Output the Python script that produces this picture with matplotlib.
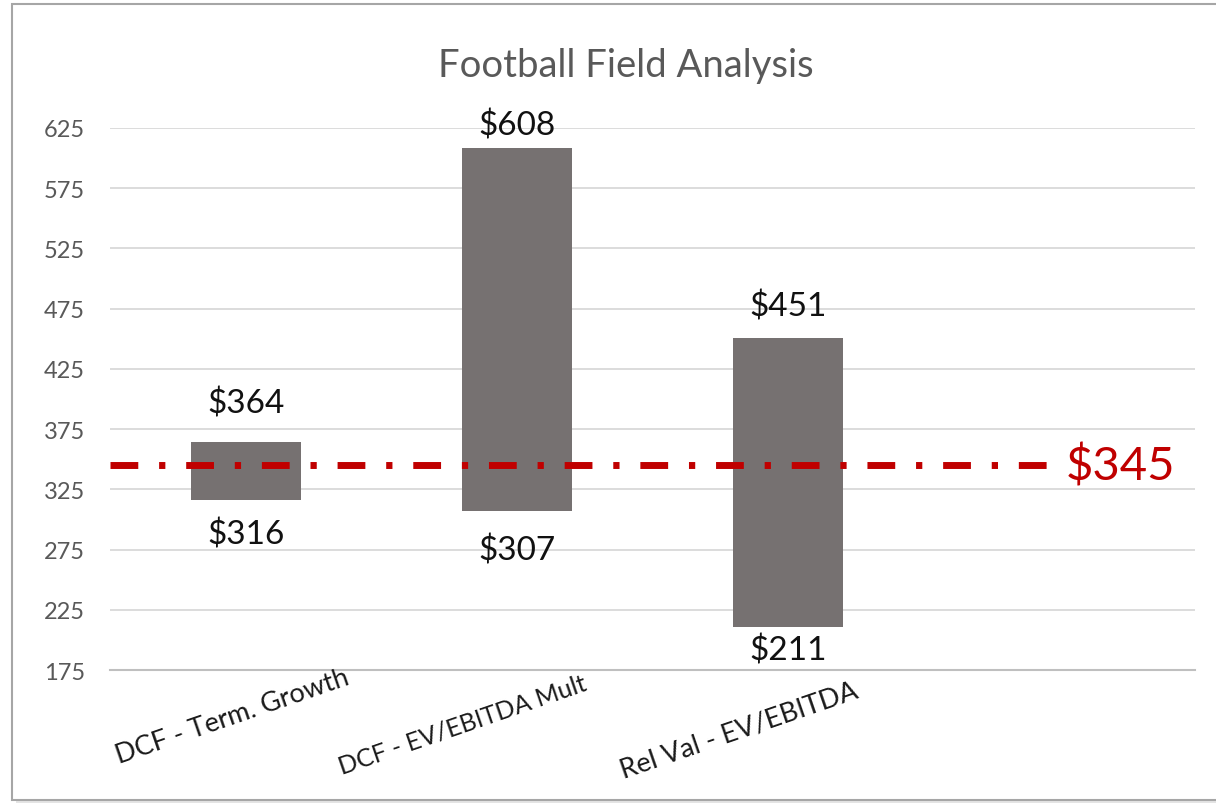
import matplotlib.pyplot as plt
from matplotlib.patches import Rectangle
from matplotlib.transforms import blended_transform_factory

plt.rcParams['font.family'] = ['Lato', 'DejaVu Sans']

# valuation ranges per method
methods = ["DCF - Term. Growth", "DCF - EV/EBITDA Mult", "Rel Val - EV/EBITDA", ""]
low_vals = [316, 307, 211]
high_vals = [364, 608, 451]
share_price = 345
y_ticks = [175, 225, 275, 325, 375, 425, 475, 525, 575, 625]

bar_color = "#767171"
red = "#C00000"

fig = plt.figure(figsize=(12.16, 8.04), dpi=100)

# chart frame with a soft shadow
fig.patches.append(Rectangle((0.013, 0.0), 1.0, 0.992, transform=fig.transFigure,
                             facecolor="#E4E4E4", edgecolor="none", zorder=-3))
fig.patches.append(Rectangle((0.0099, 0.004), 1.0, 0.990, transform=fig.transFigure,
                             facecolor="white", edgecolor="#A6A6A6", lw=1.5, zorder=-2))

ax = fig.add_axes([0.0905, 0.1654, 0.892, 0.6742])
ax.set_facecolor("none")

x = list(range(len(low_vals)))
heights = [h - l for h, l in zip(high_vals, low_vals)]
ax.bar(x, heights, bottom=low_vals, width=0.405, color=bar_color, zorder=3)

# label offsets (points) above / below each bar
top_pad = [28, 17, 23]
bot_pad = [24, 28, 17]
for i, (lo, hi) in enumerate(zip(low_vals, high_vals)):
    ax.annotate(f"${hi}", (i, hi), xytext=(0, top_pad[i]), textcoords="offset points",
                ha="center", va="center", fontsize=24, color="#111111",
                annotation_clip=False)
    ax.annotate(f"${lo}", (i, lo), xytext=(0, -bot_pad[i]), textcoords="offset points",
                ha="center", va="center", fontsize=24, color="#111111",
                annotation_clip=False)

# current share price line
ax.plot([-0.5, 3], [share_price, share_price], color=red, lw=5,
        dashes=(4.0, 3.0, 0.9, 3.0), zorder=4, clip_on=False)
ax.annotate(f"${share_price}", (3, share_price), xytext=(5, 0),
            textcoords="offset points", ha="left", va="center",
            fontsize=34, color=red, annotation_clip=False)

ax.set_xlim(-0.5, 3.5)
ax.set_ylim(175, 625)
ax.set_yticks(y_ticks)
ax.grid(axis="y", color="#D9D9D9", lw=1.3, zorder=0)
ax.set_axisbelow(True)
for side in ["top", "right", "left"]:
    ax.spines[side].set_visible(False)
ax.spines["bottom"].set_color("#BFBFBF")
ax.spines["bottom"].set_linewidth(1.5)
ax.tick_params(axis="y", length=0, pad=18, labelsize=17, labelcolor="#595959")
ax.set_xticks([])

# slanted category labels
trans = blended_transform_factory(ax.transData, ax.transAxes)
shifts = [-0.05, -0.2, -0.18]
drops = [-0.085, -0.1, -0.11]
sizes = [19.5, 18, 19.5]
for i, name in enumerate(methods[:3]):
    ax.text(i + shifts[i], drops[i], name, transform=trans, rotation=19,
            ha="center", va="center", fontsize=sizes[i], color="#1A1A1A")

fig.text(0.515, 0.918, "Football Field Analysis", ha="center", va="center",
         fontsize=27.5, color="#595959")

fig.savefig("out.png", dpi=100)
